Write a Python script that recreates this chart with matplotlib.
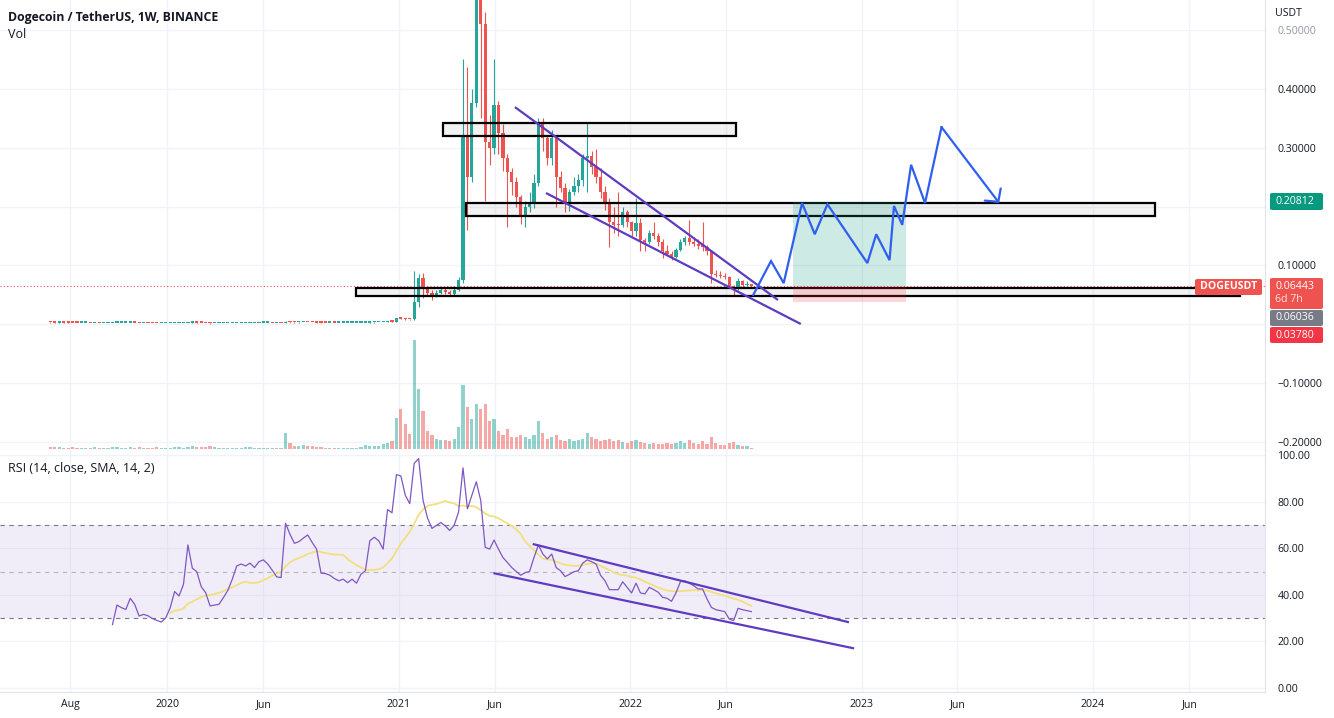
import numpy as np
import pandas as pd
import matplotlib
matplotlib.use("Agg")
import matplotlib.pyplot as plt
import matplotlib.dates as mdates
from matplotlib.patches import Rectangle, FancyBboxPatch

plt.rcParams['font.family'] = ['Open Sans', 'DejaVu Sans']

# ------------------------------------------------------------------ data
start_date = "2019-07-01"          # first weekly candle (Monday)
n_weeks = 159
first_open = 0.0033

close_2019_2020 = [
    0.0032, 0.0030, 0.0031, 0.0030, 0.0029, 0.0028, 0.0026, 0.0026, 0.0026, 0.0025,
    0.0026, 0.0024, 0.0024, 0.0024, 0.0026, 0.0027, 0.0027, 0.0027, 0.0028, 0.0026,
    0.0023, 0.0023, 0.0022, 0.0021, 0.0019, 0.0020, 0.0020,
    0.0021, 0.0022, 0.0023, 0.0024, 0.0026, 0.0031, 0.0029, 0.0026,
    0.0022, 0.0016, 0.0017, 0.0018, 0.0019, 0.0020, 0.0020, 0.0021, 0.0021,
    0.0024, 0.0025, 0.0025, 0.0026, 0.0026, 0.0026, 0.0025, 0.0025, 0.0024,
    0.0034, 0.0033, 0.0031, 0.0033, 0.0035, 0.0034, 0.0033, 0.0030, 0.0028,
    0.0027, 0.0027, 0.0026, 0.0026, 0.0026, 0.0026, 0.0026, 0.0026,
    0.0026, 0.0027, 0.0031, 0.0032, 0.0033, 0.0033, 0.0045, 0.0044, 0.0099]
high_2019_2020 = [
    0.0036, 0.0034, 0.0033, 0.0032, 0.0031, 0.0030, 0.0029, 0.0028, 0.0027, 0.0027,
    0.0028, 0.0027, 0.0026, 0.0025, 0.0028, 0.0029, 0.0028, 0.0028, 0.0030, 0.0029,
    0.0027, 0.0025, 0.0024, 0.0023, 0.0022, 0.0021, 0.0021,
    0.0022, 0.0023, 0.0024, 0.0025, 0.0027, 0.0034, 0.0032, 0.0030,
    0.0027, 0.0023, 0.0019, 0.0019, 0.0020, 0.0021, 0.0021, 0.0022, 0.0022,
    0.0026, 0.0027, 0.0026, 0.0027, 0.0028, 0.0027, 0.0026, 0.0026, 0.0026,
    0.0052, 0.0040, 0.0034, 0.0034, 0.0037, 0.0037, 0.0035, 0.0034, 0.0031,
    0.0029, 0.0029, 0.0028, 0.0027, 0.0027, 0.0027, 0.0027, 0.0027,
    0.0027, 0.0029, 0.0035, 0.0034, 0.0035, 0.0036, 0.0048, 0.0050, 0.0106]
low_2019_2020 = [
    0.0030, 0.0028, 0.0028, 0.0028, 0.0027, 0.0026, 0.0025, 0.0025, 0.0024, 0.0024,
    0.0024, 0.0023, 0.0023, 0.0023, 0.0023, 0.0025, 0.0026, 0.0025, 0.0026, 0.0025,
    0.0022, 0.0022, 0.0021, 0.0020, 0.0018, 0.0018, 0.0019,
    0.0019, 0.0020, 0.0021, 0.0022, 0.0023, 0.0025, 0.0027, 0.0025,
    0.0021, 0.0012, 0.0014, 0.0016, 0.0017, 0.0018, 0.0019, 0.0019, 0.0020,
    0.0020, 0.0023, 0.0024, 0.0024, 0.0025, 0.0025, 0.0024, 0.0024, 0.0023,
    0.0023, 0.0030, 0.0029, 0.0030, 0.0031, 0.0032, 0.0031, 0.0028, 0.0026,
    0.0025, 0.0026, 0.0025, 0.0025, 0.0025, 0.0025, 0.0025, 0.0025,
    0.0024, 0.0025, 0.0026, 0.0029, 0.0031, 0.0031, 0.0032, 0.0040, 0.0043]

close_2021_2022 = [
    0.0098, 0.0088, 0.0083, 0.0380, 0.0790,
    0.062, 0.053, 0.050, 0.053, 0.058, 0.055, 0.052, 0.058, 0.075,
    0.320, 0.250, 0.376, 0.580, 0.510, 0.310, 0.300, 0.373,
    0.325, 0.283, 0.258, 0.242, 0.217, 0.186, 0.200, 0.207, 0.240, 0.342,
    0.317, 0.283, 0.317, 0.250, 0.232, 0.207, 0.225, 0.235, 0.246, 0.283, 0.286,
    0.268, 0.250, 0.225, 0.207, 0.173, 0.169, 0.168, 0.190, 0.173, 0.158,
    0.172, 0.144, 0.140, 0.155, 0.150, 0.139, 0.124, 0.120, 0.114, 0.127,
    0.140, 0.146, 0.140, 0.137, 0.133, 0.132, 0.125, 0.085, 0.084, 0.082,
    0.080, 0.065, 0.061, 0.074, 0.066, 0.068, 0.06443]
high_2021_2022 = [
    0.0120, 0.0105, 0.0093, 0.0900, 0.0850,
    0.088, 0.064, 0.058, 0.058, 0.062, 0.061, 0.058, 0.064, 0.080,
    0.450, 0.437, 0.400, 0.740, 0.640, 0.530, 0.356, 0.450,
    0.380, 0.340, 0.290, 0.266, 0.250, 0.220, 0.210, 0.225, 0.255, 0.350,
    0.350, 0.320, 0.330, 0.320, 0.260, 0.240, 0.230, 0.250, 0.255, 0.290, 0.342,
    0.295, 0.297, 0.266, 0.235, 0.215, 0.200, 0.224, 0.200, 0.195, 0.176,
    0.215, 0.180, 0.146, 0.160, 0.174, 0.155, 0.145, 0.135, 0.125, 0.130,
    0.145, 0.150, 0.178, 0.148, 0.145, 0.173, 0.135, 0.126, 0.093, 0.090,
    0.087, 0.082, 0.066, 0.078, 0.075, 0.074, 0.069]
low_2021_2022 = [
    0.0085, 0.0080, 0.0075, 0.0072, 0.0300,
    0.045, 0.049, 0.041, 0.047, 0.051, 0.052, 0.048, 0.050, 0.057,
    0.070, 0.160, 0.242, 0.370, 0.350, 0.210, 0.270, 0.290,
    0.290, 0.260, 0.166, 0.220, 0.200, 0.170, 0.165, 0.190, 0.198, 0.235,
    0.295, 0.270, 0.270, 0.200, 0.225, 0.190, 0.193, 0.220, 0.225, 0.235, 0.225,
    0.255, 0.240, 0.215, 0.195, 0.132, 0.155, 0.150, 0.165, 0.165, 0.150,
    0.150, 0.125, 0.125, 0.137, 0.145, 0.133, 0.112, 0.118, 0.110, 0.112,
    0.125, 0.135, 0.135, 0.133, 0.128, 0.125, 0.118, 0.070, 0.080, 0.078,
    0.077, 0.062, 0.050, 0.058, 0.063, 0.063, 0.063]

volume_2019_2020 = [
    2, 2, 2, 1.5, 1.5, 2, 1.5, 1.5, 1.5, 1.5, 2, 1.5, 1.5, 1.5, 2, 2, 1.5, 1.5, 2, 1.5,
    2, 1.5, 1.5, 1.5, 2, 1.5, 1.5,
    1.5, 2, 2, 1.5, 2, 3, 2, 2, 2.5, 3, 2, 1.5, 1.5, 1.5, 1.5, 1.5, 1.5,
    2, 2, 1.5, 1.5, 1.5, 1.5, 1.5, 1.5, 1.5, 16, 6, 3, 3, 4, 3, 3, 2, 2,
    1.5, 1.5, 1.5, 1.5, 1.5, 1.5, 1.5, 1.5, 2, 4, 3, 3, 3, 5, 6, 8, 31]
volume_2021_2022 = [
    40, 25, 15, 109, 60,
    38, 18, 14, 10, 9, 9, 8, 10, 22,
    64, 42, 30, 45, 40, 45, 28, 30,
    18, 14, 20, 12, 12, 14, 12, 10, 14, 28,
    16, 10, 12, 14, 9, 8, 10, 8, 9, 10, 16,
    12, 10, 8, 9, 10, 8, 9, 7, 6, 8,
    9, 7, 6, 5, 6, 5, 5, 6, 5, 6,
    8, 6, 9, 6, 5, 8, 5, 12, 6, 4,
    4, 6, 7, 4, 3, 3, 1.5]

rsi_start = 14
rsi_values = [
    27.2, 35.6, 34.5, 33.7, 38.5, 35.9, 30.9, 31.6, 31.0, 29.8,
    29.0, 28.3, 30.1, 34.4, 41.4, 39.5, 44.5, 61.4, 51.4, 49.9,
    43.5, 40.9, 35.2, 35.6, 35.9, 38.8, 41.9, 46.7, 52.4, 53.2,
    52.4, 53.6, 51.7, 54.2, 55.0, 53.2, 50.6, 47.7, 47.4, 70.7,
    66.0, 62.1, 62.8, 64.3, 65.7, 62.5, 59.6, 49.3, 49.1, 48.4,
    47.0, 46.0, 46.7, 45.2, 46.7, 45.0, 48.8, 50.3, 63.2, 64.7,
    63.2, 59.6, 76.6, 75.2, 91.6, 91.0, 82.7, 79.1, 96.4, 98.5,
    80.5, 73.0, 68.5, 69.8, 71.0, 69.6, 67.6, 69.8, 75.5, 94.5,
    76.9, 82.7, 88.5, 80.5, 60.4, 59.6, 63.5, 59.6, 56.0, 53.9,
    51.7, 50.0, 48.4, 49.5, 50.0, 56.0, 61.4, 57.5, 55.4, 57.5,
    51.7, 50.3, 47.8, 48.8, 49.9, 50.3, 53.6, 55.0, 54.2, 53.2,
    48.4, 46.0, 42.2, 42.2, 42.2, 45.6, 43.2, 40.8, 45.0, 40.8,
    40.4, 43.2, 42.2, 41.1, 38.9, 38.5, 37.2, 40.8, 45.6, 46.0,
    45.0, 43.9, 42.5, 42.5, 38.2, 34.6, 33.6, 33.2, 32.8, 29.6,
    28.9, 34.2, 33.6, 33.2, 32.8]
rsi_ma_length = 14

# drawings (dates / prices)
box_top_dates = ["2021-03-11", "2022-06-17"];  box_top_prices = [0.320, 0.342]
box_mid_dates = ["2021-04-16", "2024-04-08"];  box_mid_prices = [0.184, 0.206]
box_low_dates = ["2020-10-25", "2024-08-20"];  box_low_prices = [0.0485, 0.0618]
wedge_upper_dates = ["2021-07-03", "2022-08-22"]; wedge_upper_prices = [0.369, 0.0413]
wedge_lower_dates = ["2021-08-21", "2022-09-27"]; wedge_lower_prices = [0.223, 0.0005]
path_dates = ["2022-07-14", "2022-08-11", "2022-08-31", "2022-09-29", "2022-10-19",
              "2022-11-08", "2023-01-10", "2023-01-24", "2023-02-14", "2023-02-21",
              "2023-03-06", "2023-03-20", "2023-04-11", "2023-05-07", "2023-08-06"]
path_prices = [0.050, 0.1075, 0.070, 0.206, 0.153, 0.204, 0.104, 0.153, 0.109, 0.201,
               0.169, 0.271, 0.206, 0.335, 0.206]
position_dates = ["2022-09-14", "2023-03-12"]
position_target, position_entry, position_stop = 0.20812, 0.06443, 0.03780
last_price = 0.06443
rsi_upper_dates = ["2021-07-31", "2022-12-12"]; rsi_upper_values = [61.8, 28.2]
rsi_lower_dates = ["2021-05-30", "2022-12-20"]; rsi_lower_values = [49.3, 17.0]

price_ticks = [-0.2, -0.1, 0.0, 0.1, 0.2, 0.3, 0.4, 0.5]
hidden_price_labels = [0.0, 0.2]   # covered by the price tags in the reference
rsi_ticks = [0, 20, 40, 60, 80, 100]
date_ticks = ["2019-08-01", "2020-01-01", "2020-06-01", "2021-01-01", "2021-06-01",
              "2022-01-01", "2022-06-01", "2023-01-01", "2023-06-01", "2024-01-01", "2024-06-01"]
date_labels = ["Aug", "2020", "Jun", "2021", "Jun", "2022", "Jun", "2023", "Jun", "2024", "Jun"]

# ------------------------------------------------------------------ prep
dates = pd.date_range(start_date, periods=n_weeks, freq="7D")
close = np.array(close_2019_2020 + close_2021_2022)
high = np.array(high_2019_2020 + high_2021_2022)
low = np.array(low_2019_2020 + low_2021_2022)
vol = np.array(volume_2019_2020 + volume_2021_2022, dtype=float)
assert len(close) == n_weeks and len(high) == n_weeks and len(low) == n_weeks
assert len(vol) == n_weeks
assert len(rsi_values) == n_weeks - rsi_start
opens = np.concatenate([[first_open], close[:-1]])
up = close >= opens
xd = mdates.date2num(dates)
rsi = pd.Series(rsi_values)
rsi_ma = rsi.rolling(rsi_ma_length).mean()

def dn(s):
    return mdates.date2num(pd.Timestamp(s))

GREEN, RED = '#26a69a', '#ef5350'
TXT = '#131722'
GRID = '#f0f3fa'
BORDER = '#e0e3eb'

# ------------------------------------------------------------------ layout
W, H = 1334, 718
fig = plt.figure(figsize=(W / 100, H / 100), dpi=100)
PLOT_R = 1265

def fx(px):
    return px / W

def fy(py):
    return 1 - py / H

ax = fig.add_axes([0, fy(450), fx(PLOT_R), 450 / H])
rax = fig.add_axes([0, fy(692), fx(PLOT_R), 242 / H], sharex=ax)

ppd = (1093 - 167) / 1461.0
x0 = dn("2020-01-01") - 167 / ppd
ax.set_xlim(x0, x0 + PLOT_R / ppd)
pp = 588.6   # px per price unit
ax.set_ylim(-(450 - 324.3) / pp, 324.3 / pp)
rpp = 2.33
rax.set_ylim(-(692 - 688) / rpp, 100 + (455 - 450) / rpp)

for a in (ax, rax):
    a.set_facecolor('white')
    a.grid(True, color=GRID, lw=1.0, zorder=0)
    a.set_axisbelow(True)
    for s in ('top', 'left'):
        a.spines[s].set_visible(False)
    a.spines['right'].set_color(BORDER)
    a.spines['bottom'].set_color(BORDER)

# ------------------------------------------------------------------ volume
vax = ax.twinx()
vpx = vol.max() / 109.0
vax.set_ylim(-1 * vpx, 449 * vpx)
vax.axis('off')
vcols = [(38/255, 166/255, 154/255, 0.5) if u else (239/255, 83/255, 80/255, 0.5) for u in up]
vax.bar(xd, vol, width=3.2 / ppd, color=vcols, linewidth=0)

# ------------------------------------------------------------------ candles
cols = [GREEN if u else RED for u in up]
ax.vlines(xd, low, high, colors=cols, lw=0.8, zorder=3)
body_lo = np.minimum(opens, close)
body_h = np.maximum(np.abs(close - opens), 1.3 / pp)
ax.bar(xd, body_h, bottom=body_lo, width=3.2 / ppd, color=cols, linewidth=0, zorder=3)

ax.axhline(last_price, color=RED, ls=(0, (1, 2)), lw=0.8, zorder=2)

# boxes
for d, p in ((box_top_dates, box_top_prices), (box_mid_dates, box_mid_prices),
             (box_low_dates, box_low_prices)):
    ax.add_patch(Rectangle((dn(d[0]), p[0]), dn(d[1]) - dn(d[0]), p[1] - p[0],
                           fc=(0, 0, 0, 0.05), ec='black', lw=1.6, zorder=4))

# long position
pa, pb = dn(position_dates[0]), dn(position_dates[1])
ax.add_patch(Rectangle((pa, position_entry), pb - pa, position_target - position_entry,
                       fc=(8/255, 153/255, 129/255, 0.2), ec='none', zorder=4))
ax.add_patch(Rectangle((pa, position_stop), pb - pa, position_entry - position_stop,
                       fc=(242/255, 54/255, 69/255, 0.2), ec='none', zorder=4))

# wedge lines
PURPLE = '#5e3bc0'
for d, p in ((wedge_upper_dates, wedge_upper_prices), (wedge_lower_dates, wedge_lower_prices)):
    ax.plot(pd.to_datetime(d), p, color=PURPLE, lw=1.6, solid_capstyle='butt', zorder=5)

# projected path
BLUE = '#2f5ff0'
pdts = pd.to_datetime(path_dates)
ax.plot(pdts[:-1], path_prices[:-1], color=BLUE, lw=1.6, zorder=6, solid_joinstyle='miter')
ax.annotate('', xy=(mdates.date2num(pdts[-1]), path_prices[-1]),
            xytext=(mdates.date2num(pdts[-2]), path_prices[-2]),
            arrowprops=dict(arrowstyle='->,head_length=0.33,head_width=0.36', color=BLUE,
                            lw=1.6, shrinkA=0, shrinkB=0, mutation_scale=20), zorder=6)

# ------------------------------------------------------------------ RSI
rax.axhspan(30, 70, color=(126/255, 87/255, 194/255, 0.1), lw=0, zorder=1)
rax.axhline(70, color='#787b86', ls=(0, (4, 4)), lw=0.8, zorder=2)
rax.axhline(50, color='#787b86', ls=(0, (4, 4)), lw=0.8, alpha=0.5, zorder=2)
rax.axhline(30, color='#787b86', ls=(0, (4, 4)), lw=0.8, zorder=2)
rdates = dates[rsi_start:]
rax.plot(rdates, rsi_ma.values, color='#f2df7d', lw=1.3, zorder=3)
rax.plot(rdates, rsi.values, color='#7e57c2', lw=0.9, zorder=4)
for d, v in ((rsi_upper_dates, rsi_upper_values), (rsi_lower_dates, rsi_lower_values)):
    rax.plot(pd.to_datetime(d), v, color=PURPLE, lw=1.6, solid_capstyle='butt', zorder=5)

# ------------------------------------------------------------------ ticks
FS = 7.6

def price_label(t):
    if any(abs(t - h) < 1e-9 for h in hidden_price_labels):
        return ""
    return f"{t:.5f}" if t >= 0 else "\u2212" + f"{-t:.5f}"

ax.yaxis.tick_right()
ax.set_yticks(price_ticks)
ax.set_yticklabels([price_label(t) for t in price_ticks])
ax.tick_params(axis='y', length=0, pad=9, labelsize=FS, labelcolor=TXT)
for lbl in ax.get_yticklabels():
    if lbl.get_text() == '0.50000':
        lbl.set_color('#9598a1')
ax.tick_params(axis='x', length=0, labelbottom=False)

rax.yaxis.tick_right()
rax.set_yticks(rsi_ticks)
rax.set_yticklabels([f"{t:.2f}" for t in rsi_ticks])
rax.tick_params(axis='y', length=0, pad=9, labelsize=FS, labelcolor=TXT)
rax.set_xticks([dn(s) for s in date_ticks])
rax.set_xticklabels(date_labels)
rax.tick_params(axis='x', length=0, pad=5, labelsize=FS, labelcolor=TXT)

# ------------------------------------------------------------------ texts
fig.text(fx(8), fy(17), "Dogecoin / TetherUS, 1W, BINANCE", fontsize=8.8,
         fontweight='bold', color=TXT, va='center', ha='left')
fig.text(fx(8), fy(34), "Vol", fontsize=9, color=TXT, va='center', ha='left')
fig.text(fx(8), fy(468), "RSI (14, close, SMA, 14, 2)", fontsize=9, color=TXT,
         va='center', ha='left')
fig.text(fx(1275), fy(13), "USDT", fontsize=FS, color=TXT, va='center', ha='left')

def tag(x0p, y0p, x1p, y1p, color, lines):
    fig.patches.append(FancyBboxPatch((fx(x0p), fy(y1p)), fx(x1p) - fx(x0p), fy(y0p) - fy(y1p),
                                      boxstyle="round,pad=0,rounding_size=0.002",
                                      transform=fig.transFigure, fc=color, ec='none',
                                      zorder=10, figure=fig))
    for (txt, ty, tc, tx, ha, w) in lines:
        fig.text(fx(tx), fy(ty), txt, fontsize=FS, color=tc, va='center', ha=ha,
                 fontweight=w, zorder=11)

tag(1270, 193, 1323, 210, '#089981', [("0.20812", 202, 'white', 1275, 'left', 'normal')])
tag(1195, 279, 1262, 295, RED, [("DOGEUSDT", 287, 'white', 1228.5, 'center', 'bold')])
tag(1270, 278, 1323, 309, RED, [("0.06443", 287, 'white', 1275, 'left', 'normal'),
                                ("6d 7h", 300, '#ffe3e3', 1275, 'left', 'normal')])
tag(1270, 310, 1323, 326, '#787b86', [("0.06036", 318, 'white', 1275, 'left', 'normal')])
tag(1270, 327, 1323, 343, '#f23645', [("0.03780", 335, 'white', 1275, 'left', 'normal')])

fig.savefig("out.png", dpi=100, facecolor='white')
